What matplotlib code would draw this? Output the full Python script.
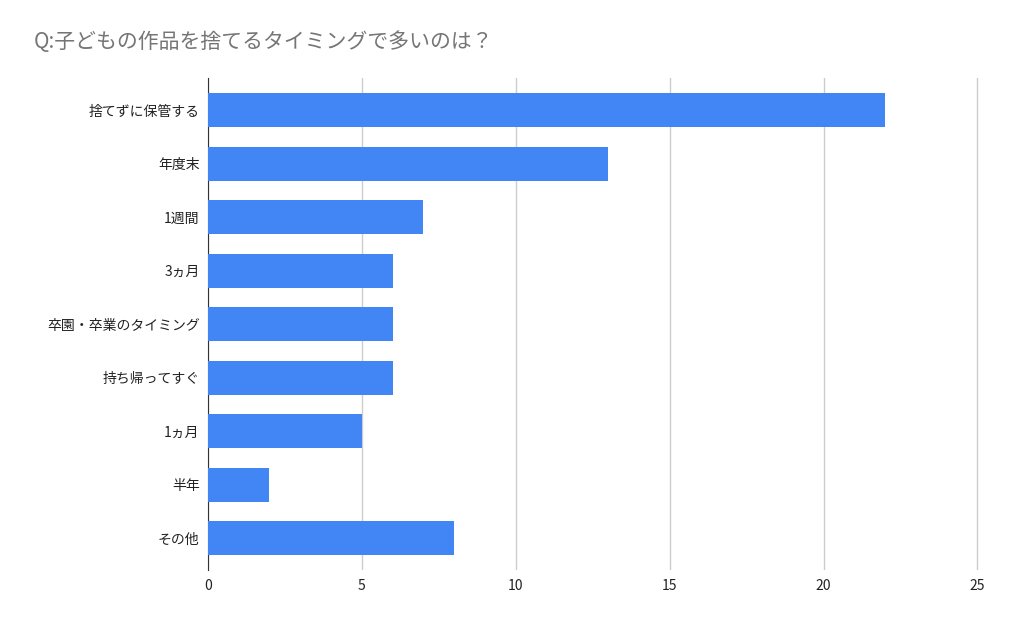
import matplotlib
matplotlib.use('Agg')
import matplotlib.pyplot as plt

matplotlib.rcParams['font.family'] = 'Noto Sans CJK JP'

# データ
categories = ['捨てずに保管する', '年度末', '1週間', '3ヵ月', '卒園・卒業のタイミング',
              '持ち帰ってすぐ', '1ヵ月', '半年', 'その他']
values = [22, 13, 7, 6, 6, 6, 5, 2, 8]
xticks = [0, 5, 10, 15, 20, 25]

fig = plt.figure(figsize=(10.14, 6.26), dpi=100)
ax = fig.add_axes([0.205, 0.089, 0.765, 0.786])

y = list(range(len(categories)))
ax.barh(y, values, height=0.63, color='#4285f4', zorder=3)
ax.set_yticks(y)
ax.set_yticklabels(categories, fontsize=10, color='#222222')
ax.invert_yaxis()
ax.set_ylim(len(categories) - 0.4, -0.6)
ax.set_xlim(0, 25.2)
ax.set_xticks(xticks)
ax.set_xticklabels([str(t) for t in xticks], fontsize=10, color='#222222')
ax.grid(axis='x', color='#cccccc', linewidth=1, zorder=0)
for s in ['top', 'right', 'bottom']:
    ax.spines[s].set_visible(False)
ax.spines['left'].set_color('#333333')
ax.tick_params(length=0, pad=6)

fig.text(0.033, 0.933, 'Q:子どもの作品を捨てるタイミングで多いのは？',
         fontsize=15, color='#757575', va='center')

fig.savefig('out.png', dpi=100, facecolor='white')
